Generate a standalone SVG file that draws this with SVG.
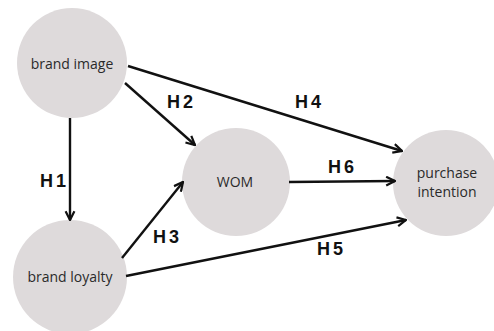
<svg xmlns="http://www.w3.org/2000/svg" width="494" height="331" viewBox="0 0 494 331">
<defs>
<style>
.node{fill:#dedadb}
.lbl{font-family:"Open Sans","Noto Sans",sans-serif;font-size:14px;fill:#2a2a2a;text-anchor:middle}
.h{font-family:"Liberation Sans",Arial,sans-serif;font-weight:bold;font-size:18px;fill:#111;letter-spacing:3px}
.e{stroke:#111;stroke-width:2.4;fill:none;marker-end:url(#ah)}
</style>
<marker id="ah" viewBox="0 0 10 10" refX="9" refY="5" markerWidth="4.6" markerHeight="4.6" orient="auto" markerUnits="strokeWidth">
<path d="M1,1 L9,5 L1,9" fill="none" stroke="#111" stroke-width="2"/>
</marker>
</defs>
<rect width="494" height="331" fill="#fff"/>
<g id="nodes">
<g id="brand-image"><circle class="node" cx="72" cy="63" r="55"/><text class="lbl" x="72" y="69">brand image</text></g>
<g id="brand-loyalty"><circle class="node" cx="70" cy="277" r="57"/><text class="lbl" x="70" y="282">brand loyalty</text></g>
<g id="wom"><circle class="node" cx="236" cy="182" r="54"/><text class="lbl" x="235" y="187">WOM</text></g>
<g id="purchase-intention"><circle class="node" cx="446" cy="183" r="53"/><text class="lbl" x="447" y="178">purchase</text><text class="lbl" x="447" y="197">intention</text></g>
</g>
<g id="connectors">
<line class="e" x1="70" y1="118" x2="70" y2="220"/>
<line class="e" x1="125" y1="83" x2="195" y2="145"/>
<line class="e" x1="128" y1="66" x2="402" y2="151"/>
<line class="e" x1="122" y1="258" x2="183" y2="182"/>
<line class="e" x1="126" y1="276" x2="406" y2="220"/>
<line class="e" x1="289" y1="182" x2="395" y2="181"/>
</g>
<g id="labels">
<text class="h" x="40" y="187">H1</text>
<text class="h" x="167" y="108">H2</text>
<text class="h" x="153" y="243">H3</text>
<text class="h" x="295" y="108">H4</text>
<text class="h" x="317" y="255">H5</text>
<text class="h" x="328" y="173">H6</text>
</g>
</svg>
